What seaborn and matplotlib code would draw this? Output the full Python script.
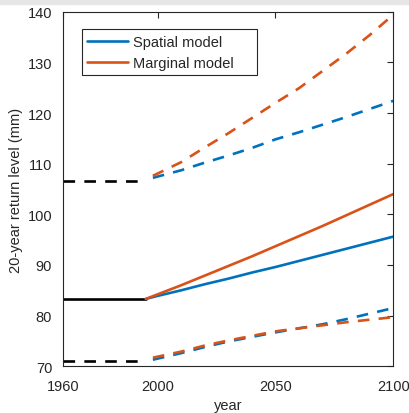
import numpy as np
import pandas as pd
import matplotlib
matplotlib.use("Agg")
import matplotlib.pyplot as plt
from matplotlib.lines import Line2D
from matplotlib.patches import Rectangle
import seaborn as sns

# Historical period (stationary estimate)
hist_years = [1960, 1995]
hist_mid = [83.3, 83.3]
hist_hi = [106.5, 106.5]
hist_lo = [71.0, 71.0]

# Projection: central estimates
proj_years = [1995, 2000, 2010, 2020, 2030, 2040, 2050, 2060, 2070, 2080, 2090, 2100]
spatial_mid = [83.3, 83.9, 85.0, 86.2, 87.3, 88.5, 89.6, 90.8, 92.0, 93.2, 94.4, 95.6]
marginal_mid = [83.3, 84.2, 86.0, 87.9, 89.8, 91.7, 93.7, 95.7, 97.7, 99.8, 101.9, 104.0]

# Projection: confidence bounds
band_years = [1998, 2010, 2020, 2030, 2040, 2050, 2060, 2070, 2080, 2090, 2100]
spatial_hi = [107.2, 108.7, 110.2, 111.6, 113.1, 114.8, 116.2, 117.7, 119.2, 120.8, 122.4]
spatial_lo = [71.3, 72.6, 73.8, 74.9, 75.8, 76.7, 77.5, 78.3, 79.3, 80.4, 81.5]
marginal_hi = [107.6, 110.3, 113.2, 116.0, 119.0, 122.0, 124.9, 128.3, 131.7, 135.4, 139.4]
marginal_lo = [71.7, 72.9, 74.1, 75.1, 76.0, 76.9, 77.5, 78.1, 78.7, 79.2, 79.7]

labels = ["Spatial model", "Marginal model"]
BLUE = "#0072BD"
ORANGE = "#D95319"
INK = "#262626"
FS = 10.5

sns.set_style("white")
plt.rcParams["font.family"] = ["Liberation Sans", "DejaVu Sans"]
plt.rcParams["axes.edgecolor"] = INK
plt.rcParams["xtick.color"] = INK
plt.rcParams["ytick.color"] = INK

fig = plt.figure(figsize=(4.09, 4.14), dpi=100)
fig.patches.append(Rectangle((0, 0.989), 1, 0.011, transform=fig.transFigure,
                             color="#e6e6e6", zorder=0))
ax = fig.add_axes([0.1548, 0.1128, 0.8068, 0.8565])

LW = 1.9
DASH = (0, (4.4, 3.5))


def draw(x, y, color, ls):
    df = pd.DataFrame({"year": x, "value": y})
    sns.lineplot(data=df, x="year", y="value", ax=ax, color=color,
                 linestyle=ls, linewidth=LW, estimator=None, sort=False,
                 legend=False)


draw(hist_years, hist_mid, "black", "-")
draw(hist_years, hist_hi, "black", DASH)
draw(hist_years, hist_lo, "black", DASH)

draw(proj_years, spatial_mid, BLUE, "-")
draw(proj_years, marginal_mid, ORANGE, "-")
draw(band_years, spatial_hi, BLUE, DASH)
draw(band_years, spatial_lo, BLUE, DASH)
draw(band_years, marginal_hi, ORANGE, DASH)
draw(band_years, marginal_lo, ORANGE, DASH)

ax.set_xlim(1960, 2100)
ax.set_ylim(70, 140)
ax.set_xticks([1960, 2000, 2050, 2100])
ax.set_yticks(range(70, 141, 10))
ax.tick_params(direction="in", length=4, width=0.8, top=True, right=True,
               labelsize=FS)
ax.tick_params(axis="x", pad=9)
ax.tick_params(axis="y", pad=8)
for s in ax.spines.values():
    s.set_visible(True)
    s.set_linewidth(0.8)
    s.set_color(INK)

ax.set_xlabel("year", fontsize=FS, color=INK, labelpad=4)
ax.set_ylabel("20-year return level (mm)", fontsize=FS, color=INK,
              labelpad=3)

# Legend box with roomy right margin
ax.add_patch(Rectangle((0.0567, 0.8215), 0.530, 0.1295, transform=ax.transAxes,
                       facecolor="white", edgecolor=INK, linewidth=0.8,
                       zorder=4))
handles = [Line2D([], [], color=BLUE, lw=LW), Line2D([], [], color=ORANGE, lw=LW)]
leg = ax.legend(handles, labels, loc="upper left", bbox_to_anchor=(0.072, 0.933),
                fontsize=FS, frameon=False, handlelength=2.8, handletextpad=0.35,
                borderpad=0, labelspacing=0.45, borderaxespad=0)
leg.set_zorder(5)

fig.savefig("out.png", dpi=100)
